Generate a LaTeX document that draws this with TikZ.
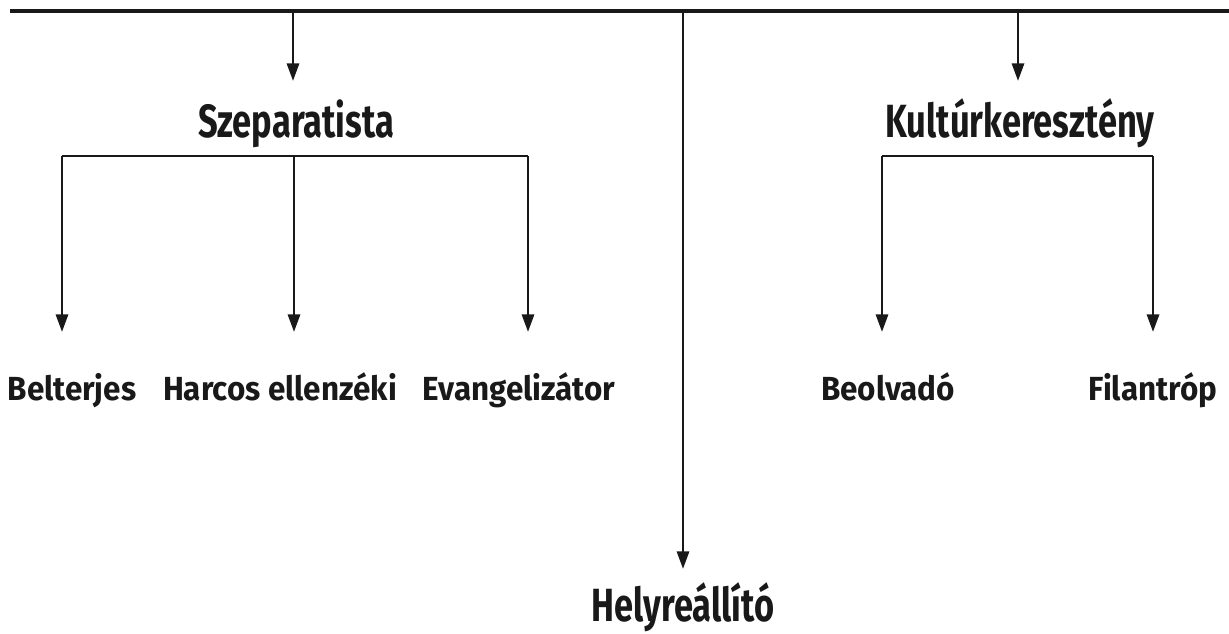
\documentclass[tikz,border=0pt]{standalone}
\usepackage{fontspec}
\setmainfont{Fira Sans}
\newfontfamily\headfont[FakeStretch=0.74]{Fira Sans}
\newfontfamily\leaffont[FakeStretch=0.94]{Fira Sans}
\usetikzlibrary{positioning,arrows.meta}

\begin{document}
\begin{tikzpicture}[x=0.02cm, y=-0.02cm, >={Triangle[width=7pt,length=10pt]},
    line width=1.3pt, color=black!90,
    head/.style={font=\headfont\bfseries\fontsize{26.5}{30}\selectfont, inner sep=0pt, anchor=base, text height=0.6cm},
    leaf/.style={font=\leaffont\bfseries\fontsize{19}{22}\selectfont, inner sep=0pt, anchor=base, text height=0.44cm}]
    \useasboundingbox (0,0) rectangle (1229,633);

    % top bar
    \coordinate (bar_L) at (10,11);
    \coordinate (bar_R) at (1229,11);
    \draw[line width=2.4pt] (bar_L) -- (bar_R);
    \foreach \name/\x in {drop_S/293, drop_H/683, drop_K/1018} {
        \coordinate (\name) at (\x,11);
    }

    % first level
    \node[head] (szep) at (296,137) {Szeparatista};
    \node[head] (kult) at (1020,137) {Kultúrkeresztény};
    \node[head] (helyre) at (683,621) {Helyreállító};
    \draw[->, shorten >=0.5cm] (drop_S) -- (drop_S |- szep.north);
    \draw[->, shorten >=0.5cm] (drop_K) -- (drop_K |- kult.north);
    \draw[->, shorten >=0.42cm] (drop_H) -- (helyre.north);

    % Szeparatista branch
    \coordinate (brS_L) at (62,156);
    \coordinate (brS_M) at (294,156);
    \coordinate (brS_R) at (528,156);
    \draw (brS_L) -- (brS_R);
    \node[leaf] (belt) at (72,400) {Belterjes};
    \node[leaf] (harcos) at (280,400) {Harcos ellenzéki};
    \node[leaf] (evang) at (519,400) {Evangelizátor};
    \draw[->, shorten >=0.9cm] (brS_L) -- (brS_L |- belt.north);
    \draw[->, shorten >=0.9cm] (brS_M) -- (brS_M |- harcos.north);
    \draw[->, shorten >=0.9cm] (brS_R) -- (brS_R |- evang.north);

    % Kultúrkeresztény branch
    \coordinate (brK_L) at (882,156);
    \coordinate (brK_R) at (1153,156);
    \draw (brK_L) -- (brK_R);
    \node[leaf] (beolv) at (888,400) {Beolvadó};
    \node[leaf] (filan) at (1153,400) {Filantróp};
    \draw[->, shorten >=0.9cm] (brK_L) -- (brK_L |- beolv.north);
    \draw[->, shorten >=0.9cm] (brK_R) -- (brK_R |- filan.north);
\end{tikzpicture}
\end{document}
